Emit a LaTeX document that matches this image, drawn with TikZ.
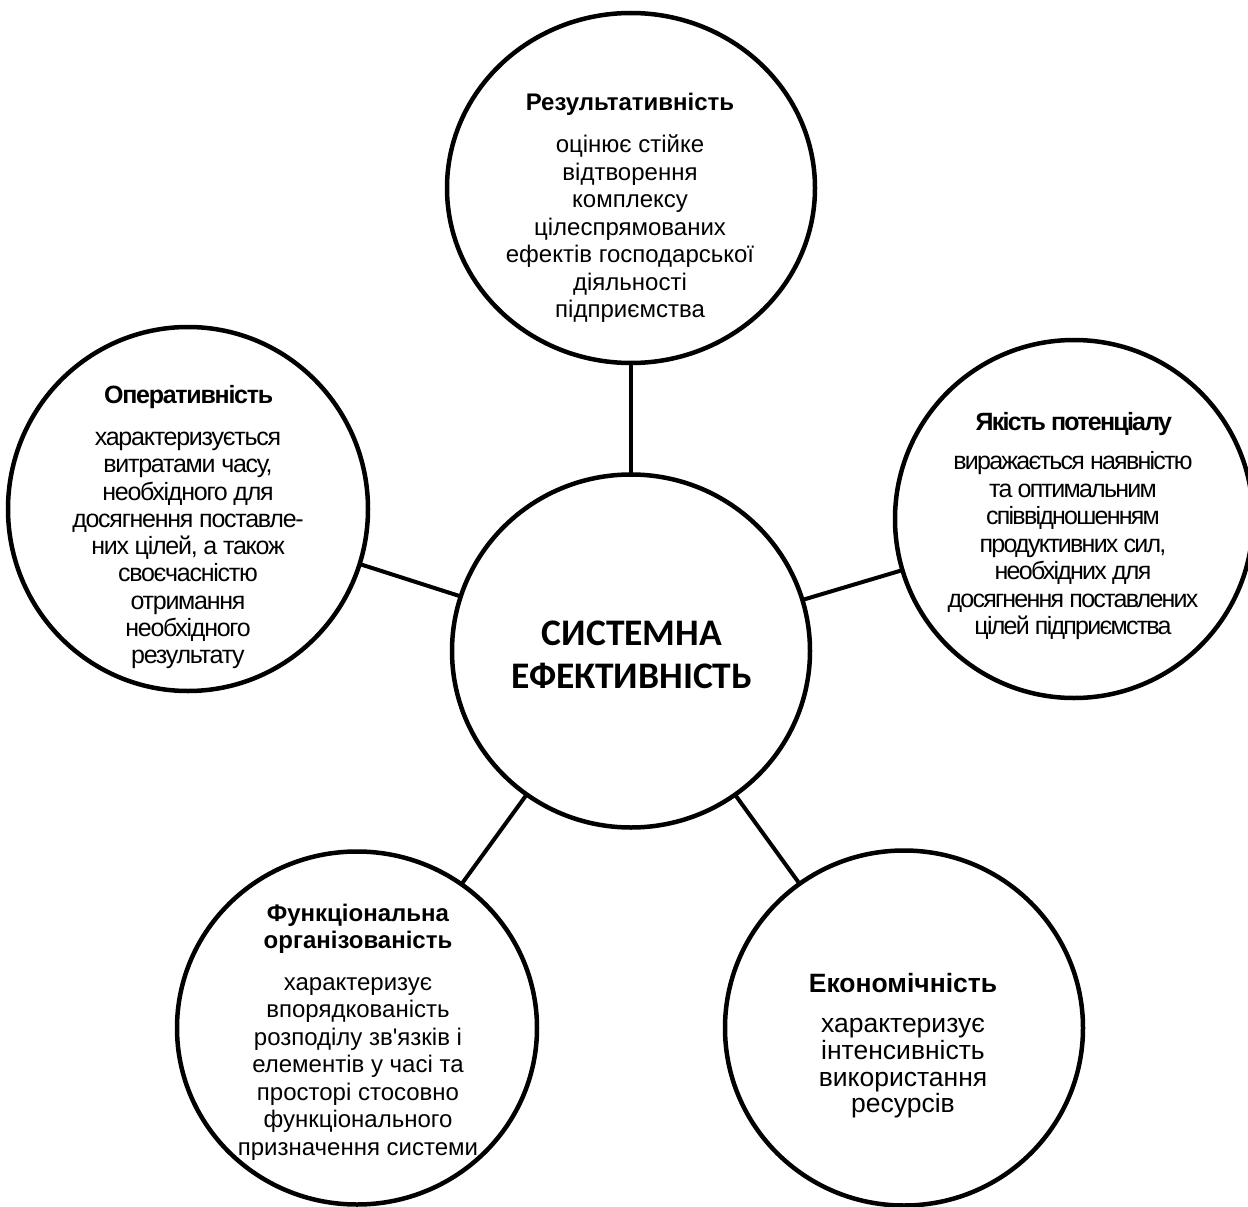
\documentclass[tikz,border=0pt]{standalone}
\usepackage{fontspec}
\setmainfont{Liberation Sans}[Ligatures=TeXOff]
\newfontfamily\centrefont{Carlito}
\usetikzlibrary{shapes.geometric}

\begin{document}
\begin{tikzpicture}[x=1pt,y=-1pt,
  ring/.style={draw, line width=4.5pt, ellipse, inner sep=0pt, outer sep=0pt},
  link/.style={line width=4pt},
  body/.style={align=center, inner sep=0pt,
    font=\fontsize{24}{27.5}\selectfont},
  bigbody/.style={align=center, inner sep=0pt,
    font=\fontsize{26.5}{26.7}\selectfont},
  tightl/.style={align=center, inner sep=0pt,
    font=\fontsize{25}{27.3}\selectfont\addfontfeatures{LetterSpace=-5}},
  tightr/.style={align=center, inner sep=0pt,
    font=\fontsize{25}{27.5}\selectfont\addfontfeatures{LetterSpace=-7}},
  core/.style={align=center, inner sep=0pt,
    font=\fontsize{37.5}{43}\selectfont\centrefont\bfseries},
]
\useasboundingbox (0,0) rectangle (1248,1207);

% the six circles
\node[ring, minimum width=368pt, minimum height=350pt] (top)   at (631,188)  {};
\node[ring, minimum width=358pt, minimum height=353pt] (mid)   at (631,651)  {};
\node[ring, minimum width=360pt, minimum height=364pt] (left)  at (188,509)  {};
\node[ring, minimum width=358pt, minimum height=358pt] (right) at (1074,519) {};
\node[ring, minimum width=360pt, minimum height=353pt] (bl)    at (357,1028) {};
\node[ring, minimum width=358pt, minimum height=355pt] (br)    at (904,1028) {};

% spokes from the centre to each circle
\draw[link] (mid) -- (top);
\draw[link] (mid) -- (left);
\draw[link] (mid) -- (right);
\draw[link] (mid) -- (bl);
\draw[link] (mid) -- (br);

% texts
\node[core] (midtxt) at (632,655) {СИСТЕМНА\\ЕФЕКТИВНІСТЬ};

\node[body] (toptxt) at (630,208) {\textbf{Результативність}\\[15pt]
  оцінює стійке\\відтворення\\комплексу\\цілеспрямованих\\
  ефектів господарської\\діяльності\\підприємства};

\node[tightl] (lefttxt) at (188,527) {\textbf{Оперативність}\\[15pt]
  характеризується\\витратами часу,\\необхідного для\\
  досягнення поставле-\\них цілей, а також\\своєчасністю\\
  отримання\\необхідного\\результату};

\node[tightr] (righttxt) at (1073,526) {\textbf{Якість потенціалу}\\[12pt]
  виражається наявністю\\та оптимальним\\співвідношенням\\
  продуктивних сил,\\необхідних для\\досягнення поставлених\\
  цілей підприємства};

\node[body] (bltxt) at (358,1032) {\textbf{Функціональна}\\\textbf{організованість}\\[14pt]
  характеризує\\впорядкованість\\розподілу зв'язків і\\
  елементів у часі та\\просторі стосовно\\функціонального\\
  призначення системи};

\node[bigbody] (brtxt) at (903,1046) {\textbf{Економічність}\\[13pt]
  характеризує\\інтенсивність\\використання\\ресурсів};
\end{tikzpicture}
\end{document}
